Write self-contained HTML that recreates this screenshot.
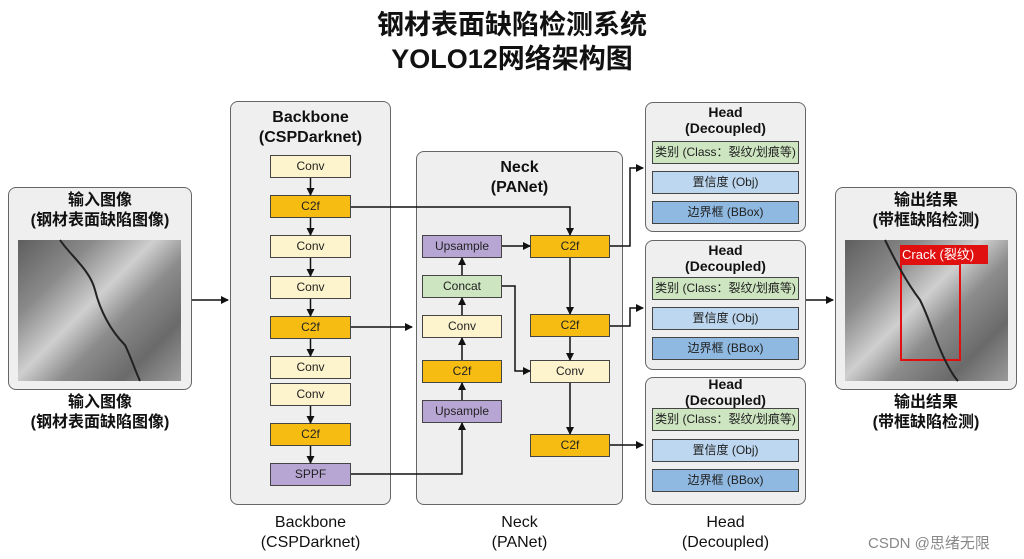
<!DOCTYPE html>
<html><head><meta charset="utf-8"><style>
body{margin:0;width:1024px;height:559px;background:#fff;position:relative;overflow:hidden;font-family:"Liberation Sans","Noto Sans CJK SC",sans-serif;}
.a{position:absolute;box-sizing:border-box;}
.panel{background:#efefef;border:1.5px solid #666;border-radius:8px;}
.b{position:absolute;box-sizing:border-box;border:1.2px solid #444;font-size:12px;text-align:center;line-height:21px;color:#222;}
.cv{background:#fdf3cc;}.cf{background:#f6bc12;}.sp{background:#b7a6d3;}.up{background:#b7a6d3;}.cc{background:#cde5c0;}
.g{background:#cde5c0;}.l{background:#bcd7ef;}.d{background:#8fb9e1;}
.t{position:absolute;text-align:center;font-weight:bold;color:#111;line-height:20px;}
.img{position:absolute;background:linear-gradient(135deg,#5e5e5e 0%,#8a8a8a 25%,#cfcfcf 45%,#8c8c8c 60%,#6a6a6a 80%,#9a9a9a 100%);}
</style></head><body>
<div class="t" style="left:0;width:1024px;top:8px;font-size:27px;line-height:34px;">钢材表面缺陷检测系统<br>YOLO12网络架构图</div>

<div class="a panel" style="left:8px;top:187px;width:184px;height:203px;"></div>
<div class="t" style="left:8px;width:184px;top:191px;font-size:16px;">输入图像<br>(钢材表面缺陷图像)</div>
<div class="img" style="left:18px;top:240px;width:163px;height:141px;"></div>
<div class="t" style="left:8px;width:184px;top:393px;font-size:16px;">输入图像<br>(钢材表面缺陷图像)</div>

<div class="a panel" style="left:230px;top:101px;width:161px;height:404px;"></div>
<div class="t" style="left:230px;width:161px;top:108px;font-size:16px;">Backbone<br>(CSPDarknet)</div>
<div class="b cv" style="left:270px;top:155px;width:81px;height:23px;">Conv</div>
<div class="b cf" style="left:270px;top:195px;width:81px;height:23px;">C2f</div>
<div class="b cv" style="left:270px;top:235px;width:81px;height:23px;">Conv</div>
<div class="b cv" style="left:270px;top:276px;width:81px;height:23px;">Conv</div>
<div class="b cf" style="left:270px;top:316px;width:81px;height:23px;">C2f</div>
<div class="b cv" style="left:270px;top:356px;width:81px;height:23px;">Conv</div>
<div class="b cv" style="left:270px;top:383px;width:81px;height:23px;">Conv</div>
<div class="b cf" style="left:270px;top:423px;width:81px;height:23px;">C2f</div>
<div class="b sp" style="left:270px;top:463px;width:81px;height:23px;">SPPF</div>

<div class="a panel" style="left:416px;top:151px;width:207px;height:354px;"></div>
<div class="t" style="left:416px;width:207px;top:158px;font-size:16px;">Neck<br>(PANet)</div>
<div class="b up" style="left:422px;top:235px;width:80px;height:23px;">Upsample</div>
<div class="b cc" style="left:422px;top:275px;width:80px;height:23px;">Concat</div>
<div class="b cv" style="left:422px;top:315px;width:80px;height:23px;">Conv</div>
<div class="b cf" style="left:422px;top:360px;width:80px;height:23px;">C2f</div>
<div class="b up" style="left:422px;top:400px;width:80px;height:23px;">Upsample</div>
<div class="b cf" style="left:530px;top:235px;width:80px;height:23px;">C2f</div>
<div class="b cf" style="left:530px;top:314px;width:80px;height:23px;">C2f</div>
<div class="b cv" style="left:530px;top:360px;width:80px;height:23px;">Conv</div>
<div class="b cf" style="left:530px;top:434px;width:80px;height:23px;">C2f</div>

<div class="a panel" style="left:645px;top:102px;width:161px;height:130px;"></div>
<div class="t" style="left:645px;width:161px;top:104px;font-size:14px;line-height:16px;">Head<br>(Decoupled)</div>
<div class="b g" style="left:652px;top:141px;width:147px;height:23px;">类别 (Class：裂纹/划痕等)</div>
<div class="b l" style="left:652px;top:171px;width:147px;height:23px;">置信度 (Obj)</div>
<div class="b d" style="left:652px;top:201px;width:147px;height:23px;">边界框 (BBox)</div>

<div class="a panel" style="left:645px;top:240px;width:161px;height:130px;"></div>
<div class="t" style="left:645px;width:161px;top:242px;font-size:14px;line-height:16px;">Head<br>(Decoupled)</div>
<div class="b g" style="left:652px;top:277px;width:147px;height:23px;">类别 (Class：裂纹/划痕等)</div>
<div class="b l" style="left:652px;top:307px;width:147px;height:23px;">置信度 (Obj)</div>
<div class="b d" style="left:652px;top:337px;width:147px;height:23px;">边界框 (BBox)</div>

<div class="a panel" style="left:645px;top:377px;width:161px;height:128px;"></div>
<div class="t" style="left:645px;width:161px;top:376px;font-size:14px;line-height:16px;">Head<br>(Decoupled)</div>
<div class="b g" style="left:652px;top:408px;width:147px;height:23px;">类别 (Class：裂纹/划痕等)</div>
<div class="b l" style="left:652px;top:439px;width:147px;height:23px;">置信度 (Obj)</div>
<div class="b d" style="left:652px;top:469px;width:147px;height:23px;">边界框 (BBox)</div>

<div class="a panel" style="left:835px;top:187px;width:182px;height:203px;"></div>
<div class="t" style="left:835px;width:182px;top:191px;font-size:16px;">输出结果<br>(带框缺陷检测)</div>
<div class="img" style="left:845px;top:240px;width:163px;height:141px;"></div>
<div class="a" style="left:900px;top:263px;width:61px;height:98px;border:2px solid #e01010;"></div>
<div class="a" style="left:900px;top:245px;width:88px;height:19px;background:#e01010;color:#fff;font-size:13px;line-height:19px;padding-left:2px;">Crack (裂纹)</div>
<div class="t" style="left:835px;width:182px;top:393px;font-size:16px;">输出结果<br>(带框缺陷检测)</div>

<div class="t" style="left:230px;width:161px;top:513px;font-size:16px;font-weight:normal;">Backbone<br>(CSPDarknet)</div>
<div class="t" style="left:416px;width:207px;top:513px;font-size:16px;font-weight:normal;">Neck<br>(PANet)</div>
<div class="t" style="left:645px;width:161px;top:513px;font-size:16px;font-weight:normal;">Head<br>(Decoupled)</div>
<div class="a" style="left:868px;top:532px;font-size:15px;color:#888;">CSDN @思绪无限</div>

<svg class="a" style="left:0;top:0;" width="1024" height="559">
<defs><marker id="m" markerWidth="8" markerHeight="8" refX="7" refY="4" orient="auto" markerUnits="userSpaceOnUse"><path d="M0,0L8,4L0,8z" fill="#111"/></marker></defs>
<path d="M60,240 C70,255 90,270 95,290 C100,310 110,330 125,345 C130,355 135,370 140,381" stroke="#222" stroke-width="2" fill="none"/>
<path d="M885,240 C895,260 905,280 920,300 C930,320 935,340 945,360 C950,370 955,378 958,381" stroke="#222" stroke-width="2" fill="none"/>
<g stroke="#111" stroke-width="1.5" fill="none" marker-end="url(#m)">
<path d="M192,300H228"/>
<path d="M310.5,178V195"/><path d="M310.5,218V235"/><path d="M310.5,258V276"/><path d="M310.5,299V316"/><path d="M310.5,339V356"/><path d="M310.5,406V423"/><path d="M310.5,446V463"/>
<path d="M351,207H570V235"/>
<path d="M351,327H412"/>
<path d="M351,474H462V423"/>
<path d="M462,400V383"/><path d="M462,360V338"/><path d="M462,315V298"/><path d="M462,275V258"/>
<path d="M502,246H530"/>
<path d="M502,286H515V371H530"/>
<path d="M570,258V314"/><path d="M570,337V360"/><path d="M570,383V434"/>
<path d="M610,246H630V168H643"/>
<path d="M610,326H630V308H643"/>
<path d="M610,445H643"/>
<path d="M806,300H833"/>
</g></svg>
</body></html>
